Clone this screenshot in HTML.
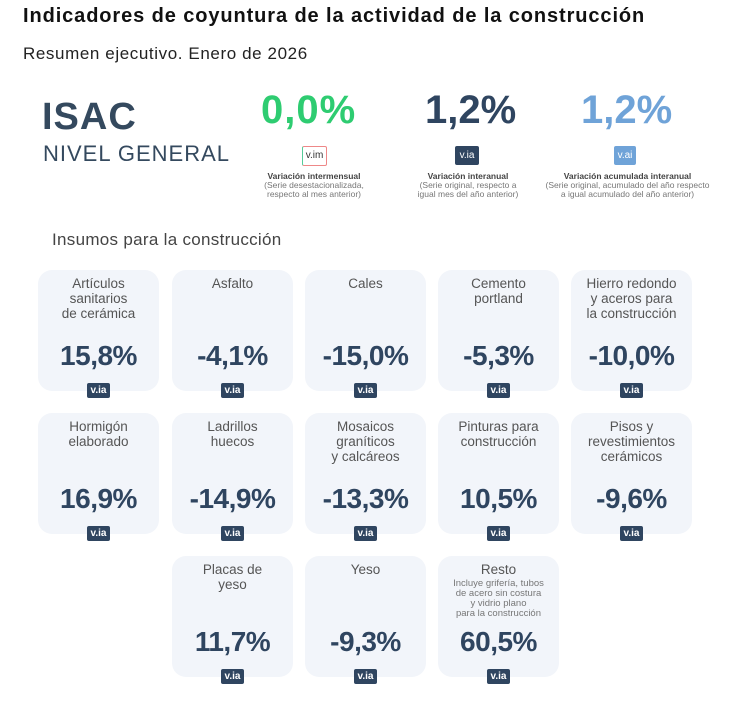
<!DOCTYPE html>
<html><head><meta charset="utf-8"><style>
body{margin:0;width:730px;height:713px;background:#fff;font-family:"Liberation Sans",sans-serif;color:#2f4560;position:relative;overflow:hidden}
.a{position:absolute}
.card{position:absolute;width:121px;height:121px;background:#f2f5fa;border-radius:14px}
.t{position:absolute;top:6px;left:0;width:121px;text-align:center;font-size:13.5px;line-height:15px;color:#555}
.v{position:absolute;top:70px;left:0;width:121px;text-align:center;font-size:28px;font-weight:bold;color:#2f4560;letter-spacing:-0.5px}
.b{position:absolute;top:113px;left:49px;width:23px;height:15px;background:#2f4560;color:#fff;font-size:10px;font-weight:bold;text-align:center;line-height:15px;border-radius:2px}
.small{display:block;font-size:9.5px;line-height:10px;color:#777;margin-top:2px}
</style></head><body>
<div class="a" style="left:23px;top:5px;font-size:20px;font-weight:bold;color:#111;letter-spacing:0.9px">Indicadores de coyuntura de la actividad de la construcción</div>
<div class="a" style="left:23px;top:44px;font-size:17px;color:#222;letter-spacing:0.6px">Resumen ejecutivo. Enero de 2026</div>
<div class="a" style="left:42px;top:96px;font-size:38px;font-weight:bold;color:#34495e;letter-spacing:1px">ISAC</div>
<div class="a" style="left:43px;top:141px;font-size:22px;color:#34495e;letter-spacing:1px">NIVEL GENERAL</div>

<div class="a" style="left:261px;top:88px;font-size:40px;font-weight:bold;color:#2ecc71;letter-spacing:1px">0,0%</div>
<div class="a" style="left:302px;top:146px;width:23px;height:18px;border:1px solid #e88;border-left-color:#5c9;border-radius:2px;font-size:10px;text-align:center;line-height:18px;color:#333">v.im</div>
<div class="a" style="left:244px;top:172px;width:140px;text-align:center;font-size:8.5px;line-height:9px;color:#444"><b>Variación intermensual</b><br><span style="color:#777">(Serie desestacionalizada,<br>respecto al mes anterior)</span></div>

<div class="a" style="left:425px;top:88px;font-size:40px;font-weight:bold;color:#2f4560">1,2%</div>
<div class="a" style="left:455px;top:146px;width:24px;height:19px;background:#2f4560;color:#fff;font-size:10px;text-align:center;line-height:19px;border-radius:2px">v.ia</div>
<div class="a" style="left:398px;top:172px;width:140px;text-align:center;font-size:8.5px;line-height:9px;color:#444"><b>Variación interanual</b><br><span style="color:#777">(Serie original, respecto a<br>igual mes del año anterior)</span></div>

<div class="a" style="left:581px;top:88px;font-size:40px;font-weight:bold;color:#6fa3d8">1,2%</div>
<div class="a" style="left:614px;top:146px;width:22px;height:19px;background:#6fa3d8;color:#fff;font-size:10px;text-align:center;line-height:19px;border-radius:2px">v.ai</div>
<div class="a" style="left:545px;top:172px;width:165px;text-align:center;font-size:8.5px;line-height:9px;color:#444"><b>Variación acumulada interanual</b><br><span style="color:#777">(Serie original, acumulado del año respecto<br>a igual acumulado del año anterior)</span></div>

<div class="a" style="left:52px;top:230px;font-size:17px;color:#444;letter-spacing:0.3px">Insumos para la construcción</div>

<div class="card" style="left:38px;top:270px"><div class="t">Artículos<br>sanitarios<br>de cerámica</div><div class="v">15,8%</div></div><div class="a" style="left:38px;top:270px"><div class="b">v.ia</div></div>
<div class="card" style="left:172px;top:270px"><div class="t">Asfalto</div><div class="v">-4,1%</div></div><div class="a" style="left:172px;top:270px"><div class="b">v.ia</div></div>
<div class="card" style="left:305px;top:270px"><div class="t">Cales</div><div class="v">-15,0%</div></div><div class="a" style="left:305px;top:270px"><div class="b">v.ia</div></div>
<div class="card" style="left:438px;top:270px"><div class="t">Cemento<br>portland</div><div class="v">-5,3%</div></div><div class="a" style="left:438px;top:270px"><div class="b">v.ia</div></div>
<div class="card" style="left:571px;top:270px"><div class="t">Hierro redondo<br>y aceros para<br>la construcción</div><div class="v">-10,0%</div></div><div class="a" style="left:571px;top:270px"><div class="b">v.ia</div></div>

<div class="card" style="left:38px;top:413px"><div class="t">Hormigón<br>elaborado</div><div class="v">16,9%</div></div><div class="a" style="left:38px;top:413px"><div class="b">v.ia</div></div>
<div class="card" style="left:172px;top:413px"><div class="t">Ladrillos<br>huecos</div><div class="v">-14,9%</div></div><div class="a" style="left:172px;top:413px"><div class="b">v.ia</div></div>
<div class="card" style="left:305px;top:413px"><div class="t">Mosaicos<br>graníticos<br>y calcáreos</div><div class="v">-13,3%</div></div><div class="a" style="left:305px;top:413px"><div class="b">v.ia</div></div>
<div class="card" style="left:438px;top:413px"><div class="t">Pinturas para<br>construcción</div><div class="v">10,5%</div></div><div class="a" style="left:438px;top:413px"><div class="b">v.ia</div></div>
<div class="card" style="left:571px;top:413px"><div class="t">Pisos y<br>revestimientos<br>cerámicos</div><div class="v">-9,6%</div></div><div class="a" style="left:571px;top:413px"><div class="b">v.ia</div></div>

<div class="card" style="left:172px;top:556px"><div class="t">Placas de<br>yeso</div><div class="v">11,7%</div></div><div class="a" style="left:172px;top:556px"><div class="b">v.ia</div></div>
<div class="card" style="left:305px;top:556px"><div class="t">Yeso</div><div class="v">-9,3%</div></div><div class="a" style="left:305px;top:556px"><div class="b">v.ia</div></div>
<div class="card" style="left:438px;top:556px"><div class="t">Resto<span class="small">Incluye grifería, tubos<br>de acero sin costura<br>y vidrio plano<br>para la construcción</span></div><div class="v">60,5%</div></div><div class="a" style="left:438px;top:556px"><div class="b">v.ia</div></div>
</body></html>
